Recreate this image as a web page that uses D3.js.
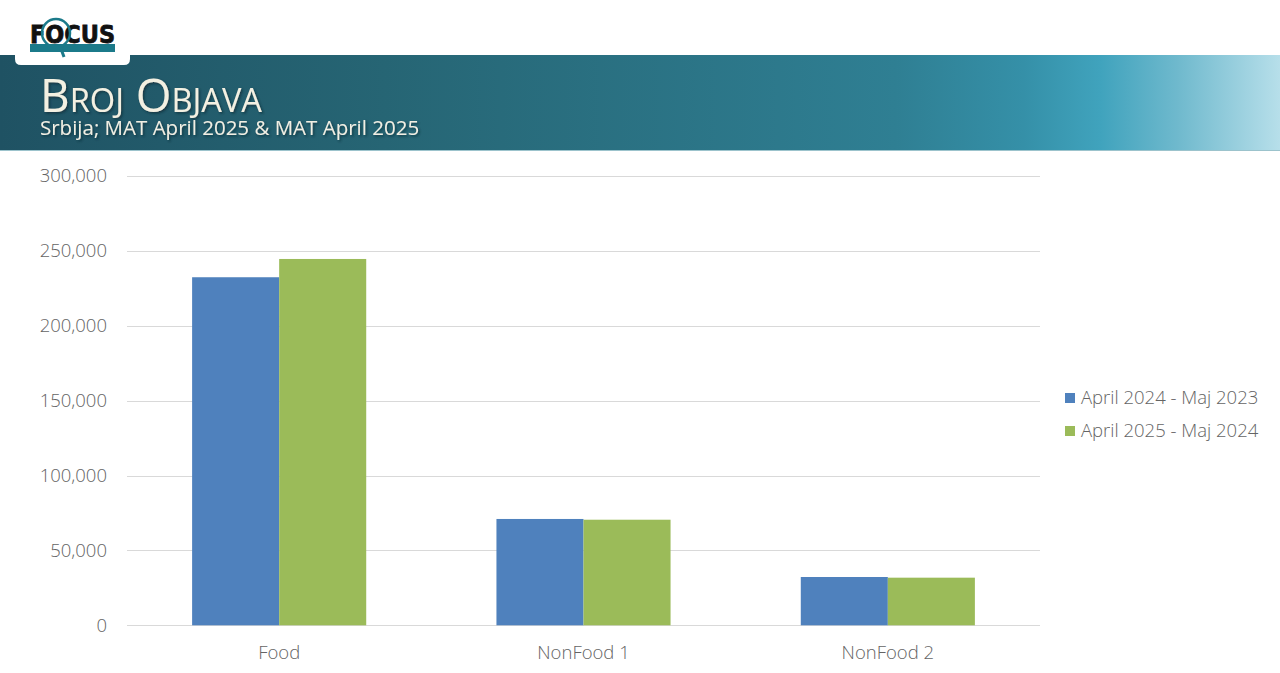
<!DOCTYPE html>
<html>
<head>
<meta charset="utf-8">
<script src="https://cdn.jsdelivr.net/npm/d3@7"></script>
<style>
  html, body { margin: 0; padding: 0; background: #fff; }
  svg { display: block; font-family: "Open Sans", sans-serif; }
</style>
</head>
<body>
<svg id="chart" width="1280" height="673"></svg>
<script>
// Category names along the x axis
const categories = ["Food", "NonFood 1", "NonFood 2"];
// Series names (legend order)
const seriesNames = ["April 2024 - Maj 2023", "April 2025 - Maj 2024"];
// Number of posts per category, one array per series
const seriesPrev = [232400, 71000, 32250];
const seriesCurr = [244600, 70500, 31800];
// Y axis ticks
const yTicks = [0, 50000, 100000, 150000, 200000, 250000, 300000];

const colors = ["#4f81bd", "#9bbb59"];
const labelSize = 18.5;
const svg = d3.select("#chart");

// ---- Header banner ----
const defs = svg.append("defs");
const grad = defs.append("linearGradient").attr("id", "bannerGrad")
  .attr("x1", "0%").attr("x2", "100%").attr("y1", "0%").attr("y2", "0%");
[[0, "#1f5263"], [0.3, "#266574"], [0.7, "#2f7f93"], [0.8, "#3590a8"], [0.86, "#40a3bd"],
 [0.92, "#6fb9cd"], [1, "#b7dfea"]].forEach(([o, c]) =>
  grad.append("stop").attr("offset", o).attr("stop-color", c));

const shadow = defs.append("filter").attr("id", "txtShadow")
  .attr("x", "-5%").attr("y", "-20%").attr("width", "110%").attr("height", "140%");
shadow.append("feDropShadow").attr("dx", 1.5).attr("dy", 1.5).attr("stdDeviation", 1)
  .attr("flood-color", "#0b2a33").attr("flood-opacity", 0.7);

svg.append("rect").attr("x", 0).attr("y", 55).attr("width", 1280).attr("height", 95)
  .attr("fill", "url(#bannerGrad)");
svg.append("line").attr("x1", 0).attr("x2", 1280).attr("y1", 150.5).attr("y2", 150.5)
  .attr("stroke", "#9cc3cc").attr("stroke-width", 1);

// Logo tab
svg.append("path")
  .attr("d", "M15,0 H130 V59 Q130,65 124,65 H21 Q15,65 15,59 Z")
  .attr("fill", "#ffffff");
const logo = svg.append("g");
logo.append("rect").attr("x", 30).attr("y", 44).attr("width", 85).attr("height", 8).attr("fill", "#1b7a8a");
logo.append("text").attr("x", 30).attr("y", 43)
  .attr("font-family", "'DejaVu Sans', sans-serif").attr("font-weight", "bold")
  .attr("font-size", 25).attr("fill", "#111")
  .attr("stroke", "#111").attr("stroke-width", 0.8)
  .attr("textLength", 85).attr("lengthAdjust", "spacingAndGlyphs")
  .text("FOCUS");
logo.append("circle").attr("cx", 56).attr("cy", 33).attr("r", 14)
  .attr("fill", "none").attr("stroke", "#1b7a8a").attr("stroke-width", 2.5);
logo.append("line").attr("x1", 60).attr("y1", 46).attr("x2", 64).attr("y2", 57)
  .attr("stroke", "#1b7a8a").attr("stroke-width", 3);

// Titles
svg.append("text").attr("x", 40).attr("y", 112)
  .attr("font-family", "'Open Sans', sans-serif")
  .attr("font-size", 45).attr("fill", "#f3f0e2")
  .style("font-variant", "small-caps")
  .attr("textLength", 222).attr("lengthAdjust", "spacingAndGlyphs")
  .attr("filter", "url(#txtShadow)")
  .text("Broj Objava");
svg.append("text").attr("x", 40).attr("y", 135)
  .attr("font-size", 20.5).attr("fill", "#f1efe4")
  .attr("filter", "url(#txtShadow)")
  .text("Srbija; MAT April 2025 & MAT April 2025");

// ---- Chart ----
const plot = { left: 127, right: 1040, top: 176, bottom: 625.3 };

const x = d3.scaleBand().domain(categories).range([plot.left, plot.right]).paddingInner(0).paddingOuter(0);
const y = d3.scaleLinear().domain([0, 300000]).range([plot.bottom, plot.top]);
const xSub = d3.scaleBand().domain(seriesNames)
  .range([0, x.bandwidth()]).paddingInner(0).paddingOuter(0.748);

// Gridlines
svg.append("g").selectAll("line").data(yTicks).join("line")
  .attr("x1", plot.left).attr("x2", plot.right)
  .attr("y1", d => Math.round(y(d)) + 0.5).attr("y2", d => Math.round(y(d)) + 0.5)
  .attr("stroke", "#d9d9d9").attr("stroke-width", 1.2);

// Y axis labels
const yAxis = d3.axisLeft(y).tickValues(yTicks).tickSize(0).tickPadding(20)
  .tickFormat(d3.format(","));
const yg = svg.append("g").attr("transform", `translate(${plot.left},0)`).call(yAxis);
yg.select(".domain").remove();
yg.selectAll("text").attr("font-size", labelSize).attr("fill", "#646464")
  .attr("font-family", "'Open Sans', sans-serif").attr("font-weight", 300);

// Bars
const rows = categories.map((c, i) => ({ cat: c, vals: [seriesPrev[i], seriesCurr[i]] }));
const groups = svg.append("g").selectAll("g").data(rows).join("g")
  .attr("transform", d => `translate(${x(d.cat)},0)`);
groups.selectAll("rect").data(d => d.vals.map((v, j) => ({ v, s: seriesNames[j], j })))
  .join("rect")
  .attr("x", d => xSub(d.s))
  .attr("width", xSub.bandwidth())
  .attr("y", d => y(d.v))
  .attr("height", d => y(0) - y(d.v))
  .attr("fill", d => colors[d.j]);

// X axis labels
const xAxis = d3.axisBottom(x).tickSize(0).tickPadding(21);
const xg = svg.append("g").attr("transform", `translate(0,${plot.bottom})`).call(xAxis);
xg.select(".domain").remove();
xg.selectAll("text").attr("font-size", labelSize).attr("fill", "#646464")
  .attr("font-family", "'Open Sans', sans-serif").attr("font-weight", 300);

// Legend
const legend = svg.append("g").selectAll("g").data(seriesNames).join("g")
  .attr("transform", (d, i) => `translate(1065,${398 + i * 33})`);
legend.append("rect").attr("x", 0).attr("y", -5).attr("width", 10).attr("height", 10)
  .attr("fill", (d, i) => colors[i]);
legend.append("text").attr("x", 16).attr("y", 0).attr("dy", "0.35em")
  .attr("font-size", labelSize).attr("fill", "#646464").attr("font-weight", 300)
  .text(d => d);
</script>
</body>
</html>
